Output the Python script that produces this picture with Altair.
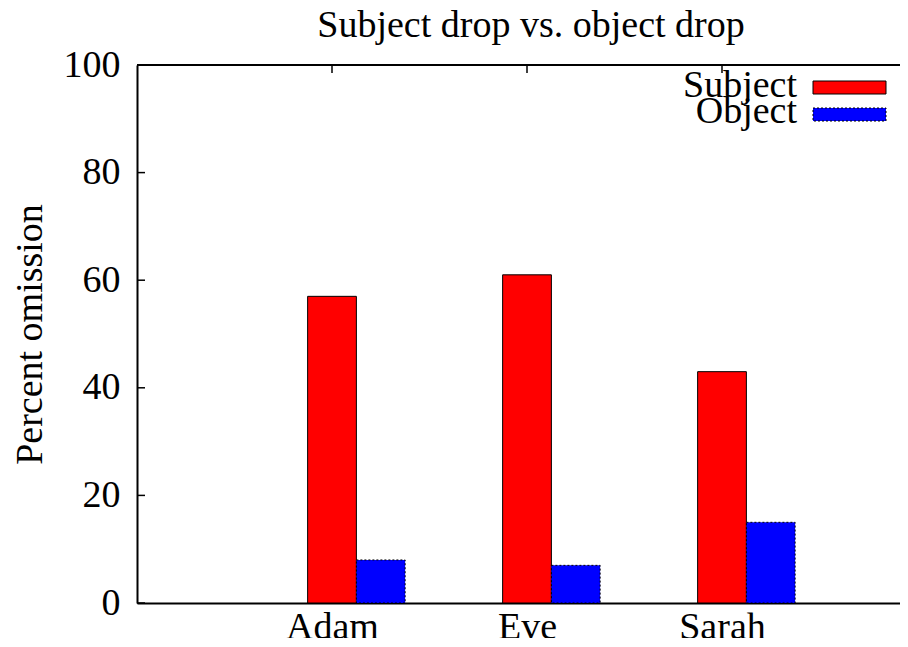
import altair as alt
import pandas as pd

title_text = "Subject drop vs. object drop"
names = ["Adam", "Eve", "Sarah"]
subject = [57, 61, 43]
obj = [8, 7, 15]
series = ["Subject", "Object"]
y_ticks = [0, 20, 40, 60, 80, 100]

FONT = "Liberation Serif"
FS = 38
W, H = 763, 538
UNIT = 195.0  # pixels per category step

rows = []
for i, n in enumerate(names):
    rows.append({"name": n, "idx": i, "series": "Subject", "value": subject[i],
                 "x0": i - 0.125, "x1": i + 0.125})
    rows.append({"name": n, "idx": i, "series": "Object", "value": obj[i],
                 "x0": i + 0.125, "x1": i + 0.375})
df = pd.DataFrame(rows)

xscale = alt.Scale(domain=[-1, -1 + W / UNIT], nice=False, zero=False)
yscale = alt.Scale(domain=[0, 100], nice=False)

label_expr = "[" + ",".join('"%s"' % n for n in names) + "][datum.value]"

xaxis = alt.Axis(values=[0, 1, 2], labelExpr=label_expr, ticks=False, grid=False,
                 domain=True, domainColor="black", domainWidth=2,
                 labelFont=FONT, labelFontSize=FS, labelColor="black",
                 labelPadding=5, title=None)
yaxis = alt.Axis(values=y_ticks, ticks=False, grid=False, domain=True,
                 domainColor="black", domainWidth=2,
                 labelFont=FONT, labelFontSize=FS, labelColor="black",
                 labelPadding=17, title="Percent omission",
                 titleFont=FONT, titleFontSize=FS, titleFontWeight="normal",
                 titleColor="black", titleX=-96, titleY=H / 2, titleAngle=270,
                 titleBaseline="alphabetic", titleAlign="center")

base = alt.Chart(df)

red = base.transform_filter(alt.datum.series == "Subject").mark_rect(
    color="#ff0000", stroke="black", strokeWidth=1
).encode(
    x=alt.X("x0:Q", scale=xscale, axis=xaxis),
    x2="x1:Q",
    y=alt.Y("value:Q", scale=yscale, axis=yaxis),
    y2=alt.datum(0),
)

blue = base.transform_filter(alt.datum.series == "Object").mark_rect(
    color="#0000ff", stroke="black", strokeWidth=1, strokeDash=[2, 2]
).encode(
    x=alt.X("x0:Q", scale=xscale),
    x2="x1:Q",
    y=alt.Y("value:Q", scale=yscale),
    y2=alt.datum(0),
)

ytick_df = pd.DataFrame({"v": y_ticks})
yticks = alt.Chart(ytick_df).mark_rule(color="black", strokeWidth=1.5).encode(
    y=alt.Y("v:Q", scale=yscale),
    x=alt.value(0), x2=alt.value(8),
)

xtick_df = pd.DataFrame({"i": list(range(len(names)))})
xticks = alt.Chart(xtick_df).mark_rule(color="black", strokeWidth=1.5).encode(
    x=alt.X("i:Q", scale=xscale),
    y=alt.value(0), y2=alt.value(8),
)

top_border = alt.Chart(ytick_df).mark_rule(color="black", strokeWidth=2).encode(
    x=alt.value(0), x2=alt.value(W), y=alt.value(0)
)

title_df = pd.DataFrame({"t": [title_text]})
title_mark = alt.Chart(title_df).mark_text(
    font=FONT, fontSize=FS, align="center", baseline="alphabetic", color="black"
).encode(text="t:N", x=alt.value(394), y=alt.value(-28))

leg_df = pd.DataFrame({"series": series})
leg_red = alt.Chart(leg_df).transform_filter(alt.datum.series == "Subject").mark_rect(
    color="#ff0000", stroke="black", strokeWidth=1
).encode(x=alt.value(676), x2=alt.value(749), y=alt.value(16), y2=alt.value(29))
leg_blue = alt.Chart(leg_df).transform_filter(alt.datum.series == "Object").mark_rect(
    color="#0000ff", stroke="black", strokeWidth=1, strokeDash=[2, 2]
).encode(x=alt.value(676), x2=alt.value(749), y=alt.value(43), y2=alt.value(56))
leg_t1 = alt.Chart(leg_df).transform_filter(alt.datum.series == "Subject").mark_text(
    font=FONT, fontSize=FS, align="right", baseline="alphabetic", color="black"
).encode(text="series:N", x=alt.value(660), y=alt.value(32))
leg_t2 = alt.Chart(leg_df).transform_filter(alt.datum.series == "Object").mark_text(
    font=FONT, fontSize=FS, align="right", baseline="alphabetic", color="black"
).encode(text="series:N", x=alt.value(660), y=alt.value(58))

chart = alt.layer(
    red, blue, yticks, xticks, top_border, title_mark,
    leg_red, leg_blue, leg_t1, leg_t2
).properties(
    width=W, height=H,
    autosize=alt.AutoSizeParams(type="none"),
    padding={"left": 129, "top": 57, "right": 0, "bottom": 35},
).configure_view(stroke=None).configure(background="white")

chart.save("out.html", embed_options={"renderer": "svg", "actions": False})
